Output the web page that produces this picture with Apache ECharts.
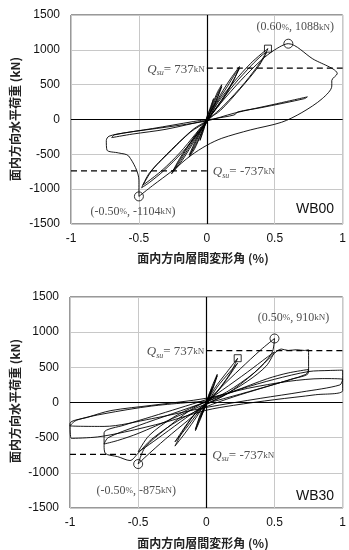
<!DOCTYPE html>
<html>
<head>
<meta charset="utf-8">
<script src="https://cdn.jsdelivr.net/npm/echarts@6/dist/echarts.min.js"></script>
<style>
html,body{margin:0;padding:0;background:#fff;}
#c{width:349px;height:550px;}
</style>
</head>
<body>
<div id="c"></div>
<script>
// ---- Data ----
const xTicks = [-1, -0.5, 0, 0.5, 1];
const yTicks = [-1500, -1000, -500, 0, 500, 1000, 1500];
const specimens = ['WB00', 'WB30'];
const qsu = 737;

const wb00Loop = [
[0,0],[0.02,140],[0.05,300],[0.03,170],[0,40],[-0.02,-130],[-0.05,-300],[-0.03,-160],[0,-30],
[0.04,210],[0.08,400],[0.11,500],[0.08,330],[0.03,120],[0,20],[-0.04,-200],[-0.09,-420],[-0.13,-540],[-0.09,-360],[-0.03,-120],[0,-30],
[0.05,230],[0.09,410],[0.11,470],[0.07,270],[0.02,70],[-0.04,-190],[-0.1,-430],[-0.13,-510],[-0.08,-290],[-0.02,-70],[0,-10],
[0.05,180],[0.12,420],[0.18,600],[0.24,760],[0.2,570],[0.11,260],[0.03,60],[-0.05,-170],[-0.13,-430],[-0.2,-640],[-0.26,-780],[-0.2,-560],[-0.1,-270],[0,-40],
[0.07,230],[0.15,470],[0.21,660],[0.24,730],[0.16,440],[0.06,140],[-0.05,-150],[-0.14,-430],[-0.21,-640],[-0.25,-740],[-0.16,-460],[-0.06,-160],[0,-30],
[0.08,240],[0.2,540],[0.32,800],[0.4,940],[0.45,1017],[0.4,840],[0.28,530],[0.12,190],[0.02,10],[-0.06,-190],[-0.18,-470],[-0.32,-740],[-0.42,-900],[-0.48,-980],[-0.42,-760],[-0.28,-480],[-0.12,-180],[0,-20],
[0.08,200],[0.2,500],[0.33,780],[0.41,930],[0.44,960],[0.38,760],[0.25,450],[0.1,130],[0,-10],[-0.08,-200],[-0.2,-480],[-0.33,-730],[-0.44,-900],[-0.47,-940],[-0.4,-720],[-0.26,-430],[-0.1,-140],[0,-10],
[0.1,230],[0.25,560],[0.4,850],[0.5,1000],[0.6,1088],[0.78,870],[0.96,657],[0.92,560],[0.92,480],[0.85,300],[0.7,100],[0.55,-40],[0.32,-150],[0.11,-270],[0,-370],[-0.12,-520],[-0.25,-730],[-0.4,-950],[-0.5,-1104],[-0.5,-870],[-0.575,-525],[-0.65,-480],[-0.735,-440],[-0.74,-300],[-0.72,-240],[-0.6,-190],[-0.3,-110],[0,-20],
[0.2,90],[0.5,220],[0.74,325],[0.72,300],[0.4,170],[0.23,110],[0.2,65],[0.05,10],[0,-10],[-0.3,-140],[-0.55,-210],[-0.7,-260],[-0.68,-220],[-0.4,-130],[-0.1,-30],[0,0]
];
const wb00Square = [[0.45, 1017]];
const wb00Peaks = [[0.60, 1088], [-0.50, -1104]];

const wb30Loop = [
[0,0],[0.02,120],[0.04,200],[0.02,80],[0,10],[-0.02,-120],[-0.04,-200],[-0.02,-80],[0,-10],
[0.04,220],[0.08,400],[0.05,220],[0.01,40],[-0.04,-220],[-0.08,-400],[-0.05,-220],[0,-30],
[0.05,240],[0.08,380],[0.04,160],[0,10],[-0.05,-250],[-0.08,-380],[-0.04,-150],[0,-20],
[0.06,200],[0.15,430],[0.23,630],[0.18,430],[0.08,160],[0,10],[-0.07,-200],[-0.15,-420],[-0.23,-620],[-0.17,-400],[-0.07,-130],[0,-20],
[0.08,220],[0.17,430],[0.23,560],[0.15,330],[0.05,80],[-0.05,-120],[-0.15,-370],[-0.23,-560],[-0.14,-300],[-0.04,-60],[0,-10],
[0.1,200],[0.25,480],[0.4,750],[0.5,910],[0.48,700],[0.35,420],[0.15,120],[0,-30],[-0.12,-230],[-0.3,-520],[-0.45,-780],[-0.5,-875],[-0.45,-640],[-0.3,-380],[-0.12,-110],[0,20],
[0.12,180],[0.3,430],[0.45,650],[0.5,720],[0.44,520],[0.3,300],[0.1,70],[0,-20],[-0.15,-220],[-0.32,-460],[-0.45,-640],[-0.5,-700],[-0.42,-470],[-0.25,-220],[-0.08,-50],[0,10],
[0.15,150],[0.35,420],[0.5,700],[0.55,760],[0.6,740],[0.66,750],[0.72,740],[0.75,750],[0.75,430],[0.62,330],[0.4,200],[0.2,80],[0,-60],[-0.2,-250],[-0.4,-520],[-0.5,-720],[-0.56,-825],[-0.65,-770],[-0.74,-725],[-0.75,-610],[-0.75,-430],[-0.6,-320],[-0.4,-200],[-0.2,-80],[0,40],
[0.2,160],[0.45,340],[0.6,420],[0.75,470],[0.73,400],[0.5,260],[0.25,120],[0,-20],[-0.25,-230],[-0.5,-440],[-0.65,-540],[-0.75,-590],[-0.72,-500],[-0.5,-330],[-0.25,-160],[0,10],
[0.25,190],[0.5,330],[0.75,440],[0.9,455],[1.0,460],[1.0,170],[0.8,110],[0.5,40],[0.2,-40],[0,-110],[-0.3,-280],[-0.6,-420],[-0.8,-490],[-0.99,-510],[-1,-300],[-0.87,-210],[-0.7,-115],[-0.4,-40],[0,60],
[0.3,200],[0.6,300],[0.85,340],[1.0,330],[0.98,250],[0.7,150],[0.4,60],[0,-70],[-0.4,-230],[-0.75,-340],[-1,-330],[-0.95,-250],[-0.75,-160],[-0.4,-50],[0,20]
];
const wb30Square = [[0.23, 630]];
const wb30Peaks = [[0.50, 910], [-0.50, -875]];

const loops = [wb00Loop, wb30Loop];
const squares = [wb00Square, wb30Square];
const peaks = [wb00Peaks, wb30Peaks];

// ---- Styles / layout ----
const SERIF = '"Liberation Serif", "DejaVu Serif", serif';
const SANS = '"Liberation Sans", Arial, sans-serif';
const CJK = '"Noto Sans CJK JP", sans-serif';
const grids = [
  {left: 71, top: 15, width: 277, height: 209},
  {left: 70, top: 297, width: 277, height: 211}
];
const peakOffsets = [
  [[7, 0], [-6, -1]],
  [[19, -4], [-2, 10]]
];

const rich = {
  n: {fontFamily: SERIF, fontSize: 12, lineHeight: 15, color: '#222'},
  u: {fontFamily: SERIF, fontSize: 9, lineHeight: 15, verticalAlign: 'middle', color: '#222'},
  q: {fontFamily: SERIF, fontSize: 13, fontStyle: 'italic', lineHeight: 16, color: '#222'},
  s: {fontFamily: SERIF, fontSize: 8, fontStyle: 'italic', lineHeight: 8, verticalAlign: 'bottom', color: '#222'},
  e: {fontFamily: SERIF, fontSize: 13, lineHeight: 16, color: '#222'},
  k: {fontFamily: SERIF, fontSize: 9, lineHeight: 16, verticalAlign: 'middle', color: '#222'}
};

const series = [];
[0, 1].forEach(i => {
  series.push({
    type: 'line', xAxisIndex: i, yAxisIndex: i, data: loops[i],
    showSymbol: false, smooth: 0.3, z: 3,
    lineStyle: {color: '#000', width: 0.9},
    markLine: {
      silent: true, symbol: 'none', animation: false,
      label: {show: false},
      lineStyle: {color: '#000', width: 1.2, type: 'solid'},
      data: [{yAxis: 0}, {xAxis: 0}]
    }
  });
  // Qsu dashed lines
  series.push({
    type: 'line', xAxisIndex: i, yAxisIndex: i,
    data: [[0, qsu], [1, qsu]], showSymbol: false, z: 4,
    lineStyle: {color: '#000', width: 1.1, type: [6, 4]}
  });
  series.push({
    type: 'line', xAxisIndex: i, yAxisIndex: i,
    data: [[-1, -qsu], [0, -qsu]], showSymbol: false, z: 4,
    lineStyle: {color: '#000', width: 1.1, type: [6, 4]}
  });
  // Qsu labels
  series.push({
    type: 'scatter', xAxisIndex: i, yAxisIndex: i, symbolSize: 0, z: 5, silent: true,
    data: [
      {value: [0, qsu], label: {position: 'left', distance: 2, offset: [0, 1]}},
      {value: [0, -qsu], label: {position: 'right', distance: 6, offset: [0, 1]}}
    ],
    label: {
      show: true, rich: rich,
      formatter: p => '{q|Q}{s|su}{e|= ' + (p.value[1] < 0 ? '-' : '') + Math.abs(p.value[1]) + '}{k|kN}'
    }
  });
  // square marker
  series.push({
    type: 'scatter', xAxisIndex: i, yAxisIndex: i, data: squares[i], z: 6,
    symbol: 'rect', symbolSize: 7,
    itemStyle: {color: 'rgba(255,255,255,0)', borderColor: '#000', borderWidth: 1}
  });
  // peak markers with labels
  series.push({
    type: 'scatter', xAxisIndex: i, yAxisIndex: i, z: 6,
    symbol: 'circle', symbolSize: 9,
    itemStyle: {color: 'rgba(255,255,255,0)', borderColor: '#000', borderWidth: 1},
    data: peaks[i].map((p, j) => ({
      value: p,
      label: {position: p[1] > 0 ? 'top' : 'bottom', offset: peakOffsets[i][j], distance: 4}
    })),
    label: {
      show: true, rich: rich,
      formatter: p => '{n|(' + p.value[0].toFixed(2) + '}{u|%}{n|, ' + p.value[1] + '}{u|kN}{n|)}'
    }
  });
});

const option = {
  animation: false,
  backgroundColor: '#fff',
  grid: grids.map(g => Object.assign({show: true, borderColor: '#333', borderWidth: 1, backgroundColor: 'transparent'}, g)),
  xAxis: [0, 1].map(i => ({
    gridIndex: i, type: 'value', min: xTicks[0], max: xTicks[xTicks.length - 1], interval: 0.5,
    axisLine: {show: false}, axisTick: {show: false},
    axisLabel: {color: '#111', fontSize: 12, fontFamily: SANS, margin: 9, formatter: v => String(v)},
    splitLine: {show: true, lineStyle: {color: '#c8c8c8', width: 1}}
  })),
  yAxis: [0, 1].map(i => ({
    gridIndex: i, type: 'value', min: yTicks[0], max: yTicks[yTicks.length - 1], interval: 500,
    axisLine: {show: false}, axisTick: {show: false},
    axisLabel: {color: '#111', fontSize: 12, fontFamily: SANS, margin: 11, formatter: v => String(v)},
    splitLine: {show: true, lineStyle: {color: '#c8c8c8', width: 1}}
  })),
  series: series,
  graphic: [
    {type: 'text', x: 15, y: 119, rotation: Math.PI / 2, z: 10,
     style: {text: '面内方向水平荷重 (kN)', font: 'bold 12px ' + CJK, fill: '#222', align: 'center', verticalAlign: 'middle'}},
    {type: 'text', x: 15, y: 401, rotation: Math.PI / 2, z: 10,
     style: {text: '面内方向水平荷重 (kN)', font: 'bold 12px ' + CJK, fill: '#222', align: 'center', verticalAlign: 'middle'}},
    {type: 'text', x: 203, y: 258, z: 10,
     style: {text: '面内方向層間変形角 (%)', font: 'bold 12px ' + CJK, fill: '#222', align: 'center', verticalAlign: 'middle'}},
    {type: 'text', x: 203, y: 543, z: 10,
     style: {text: '面内方向層間変形角 (%)', font: 'bold 12px ' + CJK, fill: '#222', align: 'center', verticalAlign: 'middle'}},
    {type: 'text', x: 315, y: 209, z: 10,
     style: {text: specimens[0], font: '14px ' + SANS, fill: '#111', align: 'center', verticalAlign: 'middle'}},
    {type: 'text', x: 315, y: 496, z: 10,
     style: {text: specimens[1], font: '14px ' + SANS, fill: '#111', align: 'center', verticalAlign: 'middle'}}
  ]
};

const chart = echarts.init(document.getElementById('c'), null, {renderer: 'canvas'});
chart.setOption(option);
</script>
</body>
</html>
